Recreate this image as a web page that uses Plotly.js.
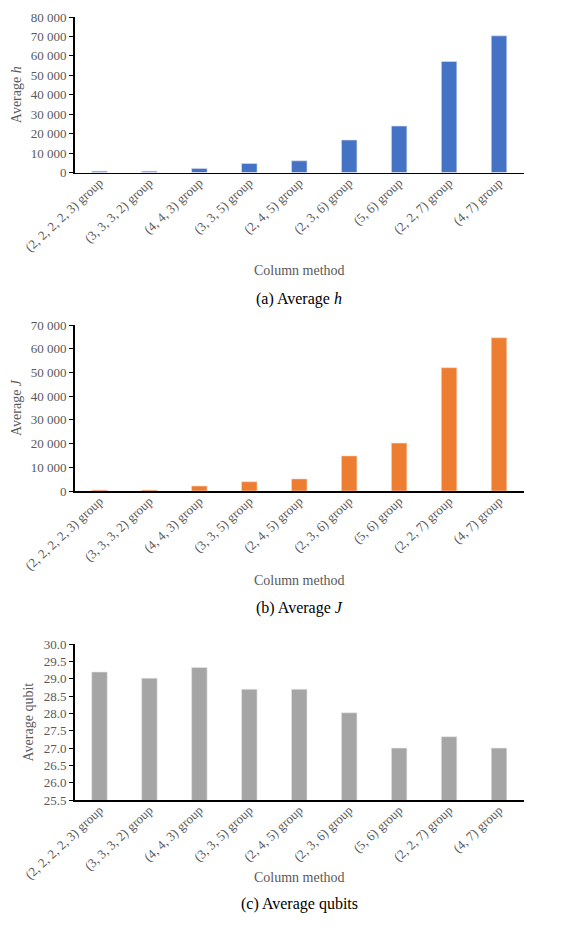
<!DOCTYPE html>
<html>
<head>
<meta charset="utf-8">
<script src="https://cdn.plot.ly/plotly-3.0.1.min.js"></script>
<style>html,body{margin:0;padding:0;background:#fff;}#chart{width:563px;height:929px;}</style>
</head>
<body>
<div id="chart"></div>
<script>
const categories = ["(2, 2, 2, 2, 3) group", "(3, 3, 3, 2) group", "(4, 4, 3) group", "(3, 3, 5) group", "(2, 4, 5) group", "(2, 3, 6) group", "(5, 6) group", "(2, 2, 7) group", "(4, 7) group"];
const avgH = [700, 700, 2100, 4600, 6000, 16700, 23900, 57100, 70300];
const avgJ = [400, 400, 2100, 3900, 5100, 14800, 20200, 52000, 64600];
const avgQubit = [29.2, 29.02, 29.33, 28.7, 28.7, 28.02, 27.0, 27.33, 27.0];

const FONT = "'Liberation Serif', 'Times New Roman', serif";
const GRAY = "#595959";

const traces = [
  {type: "bar", x: categories, y: avgH, xaxis: "x", yaxis: "y", marker: {color: "#4472C4", line: {color: "#dbe3f3", width: 0.6}}, width: 0.31, hoverinfo: "none"},
  {type: "bar", x: categories, y: avgJ, xaxis: "x2", yaxis: "y2", marker: {color: "#ED7D31", line: {color: "#f8d9c5", width: 0.6}}, width: 0.31, hoverinfo: "none"},
  {type: "bar", x: categories, y: avgQubit, xaxis: "x3", yaxis: "y3", marker: {color: "#A5A5A5", line: {color: "#e6e6e6", width: 0.6}}, width: 0.31, hoverinfo: "none"}
];

const H = 929;
function dom(top, bottom) { return [1 - bottom / H, 1 - top / H]; }
const xdom = [74.5 / 563, 524 / 563];

function xax(anchor) {
  return {domain: xdom, anchor: anchor, type: "category", tickangle: -43, showline: true, linecolor: "#000", linewidth: 1.5,
    ticks: "", ticklabelstandoff: -4, tickfont: {family: FONT, size: 13, color: GRAY}, showgrid: false, zeroline: false, fixedrange: true};
}
function yax(anchor, domain, range, dtick, fmt, title) {
  return {domain: domain, anchor: anchor, range: range, dtick: dtick, tick0: range[0], tickformat: fmt,
    showline: true, linecolor: "#000", linewidth: 1.5, ticks: "outside", ticklen: 4, tickcolor: "#000", tickwidth: 1,
    tickfont: {family: FONT, size: 13, color: GRAY}, showgrid: false, zeroline: false,
    title: {text: title, font: {family: FONT, size: 14, color: GRAY}, standoff: 6}, fixedrange: true};
}

const layout = {
  width: 563, height: 929, margin: {l: 0, r: 0, t: 0, b: 0},
  paper_bgcolor: "#fff", plot_bgcolor: "#fff", showlegend: false, separators: ". ",
  font: {family: FONT},
  xaxis: xax("y"), xaxis2: xax("y2"), xaxis3: xax("y3"),
  yaxis: yax("x", dom(17, 172.5), [0, 80000], 10000, ",d", "Average <i>h</i>"),
  yaxis2: yax("x2", dom(325, 491), [0, 70000], 10000, ",d", "Average <i>J</i>"),
  yaxis3: yax("x3", dom(644.3, 800), [25.5, 30], 0.5, ".1f", "Average qubit"),
  annotations: [
    {text: "Column method", x: 0.5 * (xdom[0] + xdom[1]), y: 1 - 261 / H, xref: "paper", yref: "paper", showarrow: false, font: {family: FONT, size: 14, color: GRAY}},
    {text: "(a) Average <i>h</i>", x: 0.5 * (xdom[0] + xdom[1]), y: 1 - 288 / H, xref: "paper", yref: "paper", showarrow: false, font: {family: FONT, size: 16, color: "#000"}},
    {text: "Column method", x: 0.5 * (xdom[0] + xdom[1]), y: 1 - 580 / H, xref: "paper", yref: "paper", showarrow: false, font: {family: FONT, size: 14, color: GRAY}},
    {text: "(b) Average <i>J</i>", x: 0.5 * (xdom[0] + xdom[1]), y: 1 - 608 / H, xref: "paper", yref: "paper", showarrow: false, font: {family: FONT, size: 16, color: "#000"}},
    {text: "Column method", x: 0.5 * (xdom[0] + xdom[1]), y: 1 - 887 / H, xref: "paper", yref: "paper", showarrow: false, font: {family: FONT, size: 14, color: GRAY}},
    {text: "(c) Average qubits", x: 0.5 * (xdom[0] + xdom[1]), y: 1 - 915 / H, xref: "paper", yref: "paper", showarrow: false, font: {family: FONT, size: 16, color: "#000"}}
  ]
};

Plotly.newPlot("chart", traces, layout, {staticPlot: true, displayModeBar: false});
</script>
</body>
</html>
